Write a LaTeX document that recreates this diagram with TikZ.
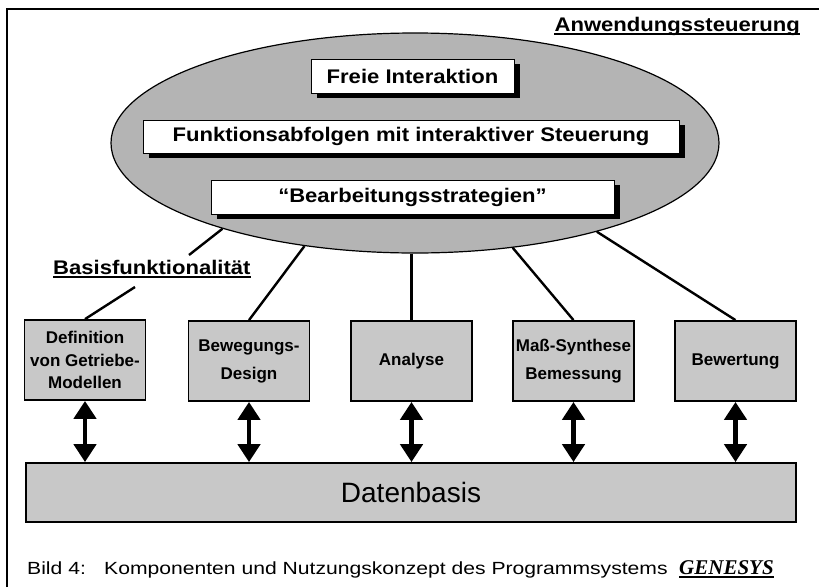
\documentclass[tikz,border=0pt]{standalone}
\usepackage{fontspec}
\setmainfont{Liberation Sans}
\newfontfamily\labfont[FakeStretch=1.12]{Liberation Sans}
\newfontfamily\capfont[FakeStretch=1.2]{Liberation Sans}
\newfontfamily\genfont{Liberation Serif}
\usetikzlibrary{shapes.geometric,arrows.meta,shadows}
\definecolor{ellgray}{RGB}{180,180,180}
\definecolor{boxgray}{RGB}{200,200,200}
\begin{document}
\begin{tikzpicture}[x=1pt,y=-1pt,
  biglab/.style={font=\labfont\bfseries\fontsize{19.7}{23}\selectfont, inner sep=0pt},
  innerbox/.style={draw=black, line width=0.8pt, fill=white, inner sep=0pt,
    drop shadow={opacity=1, fill=black, shadow xshift=6pt, shadow yshift=-5pt},
    font=\labfont\bfseries\fontsize{19.7}{23}\selectfont},
  compbox/.style={draw=black, line width=1.8pt, fill=boxgray, minimum width=121pt,
    minimum height=80pt, inner sep=0pt, align=center,
    font=\bfseries\fontsize{17}{28}\selectfont},
  conn/.style={line width=2.4pt},
  dbl/.style={line width=4.5pt, {Triangle[width=22pt,length=18pt]}-{Triangle[width=22pt,length=18pt]}},
  uline/.style={line width=1.4pt}
]
\useasboundingbox (0,0) rectangle (819,587);
\draw[line width=1.4pt] (7,587) -- (7,9) -- (819,9);

% ellipse and inner boxes
\node[ellipse, draw, line width=1.2pt, fill=ellgray, minimum width=608pt,
  minimum height=220pt, inner sep=0pt] (ell) at (415,143) {};
\node[innerbox, minimum width=203pt, minimum height=34pt] (fi) at (412.5,76) {Freie Interaktion};
\node[innerbox, minimum width=536pt, minimum height=33pt] (fa) at (411,136.5) {Funktionsabfolgen mit interaktiver Steuerung};
\node[innerbox, minimum width=403pt, minimum height=34pt] (bs) at (412.5,197) {“Bearbeitungsstrategien”};

% labels
\node[biglab, anchor=base east] (anw) at (800,31) {Anwendungssteuerung};
\draw[uline] ([yshift=-3pt]anw.base west) -- ([yshift=-3pt]anw.base east);
\node[biglab, anchor=base west] (bas) at (53,274) {Basisfunktionalität};
\draw[uline] ([yshift=-3pt]bas.base west) -- ([yshift=-3pt]bas.base east);

% component boxes
\node[compbox, font=\bfseries\fontsize{17}{22.5}\selectfont] (b1) at (85,360) {Definition\\von Getriebe-\\Modellen};
\node[compbox] (b2) at (249,361) {Bewegungs-\\Design};
\node[compbox] (b3) at (411.5,361) {Analyse};
\node[compbox] (b4) at (573.5,361) {Maß-Synthese\\Bemessung};
\node[compbox] (b5) at (735.5,361) {Bewertung};

% database
\node[draw, line width=1.8pt, fill=boxgray, minimum width=770pt, minimum height=59pt,
  inner sep=0pt, font=\fontsize{28}{32}\selectfont] (db) at (411,492.5) {Datenbasis};

% arrows
\foreach \b in {b1,b2,b3,b4,b5}
  \draw[dbl] (\b.south) -- (\b.south |- db.north);

% connectors
\coordinate (bl1) at (189,255);
\coordinate (bl2) at (135,287);
\draw[conn] (ell.204.6) -- (bl1);
\draw[conn] (bl2) -- (b1.north);
\draw[conn] (ell.223.9) -- (b2.north);
\draw[conn] (b3.north |- ell.south) -- (b3.north);
\draw[conn] (ell.313.9) -- (b4.north);
\draw[conn] (ell.334.1) -- (b5.north);

% caption
\node[anchor=base west, inner sep=0pt, font=\capfont\fontsize{17.6}{20}\selectfont] (cap1) at (27,574) {Bild 4:};
\node[anchor=base west, inner sep=0pt, font=\capfont\fontsize{17.6}{20}\selectfont] (cap2) at (104,574) {Komponenten und Nutzungskonzept des Programmsystems};
\node[anchor=base west, inner sep=0pt, font=\genfont\bfseries\itshape\fontsize{21}{24}\selectfont] (gen) at (679,574) {GENESYS};
\draw[line width=1.2pt] ([yshift=-3pt]gen.base west) -- ([yshift=-3pt]gen.base east);
\end{tikzpicture}
\end{document}
